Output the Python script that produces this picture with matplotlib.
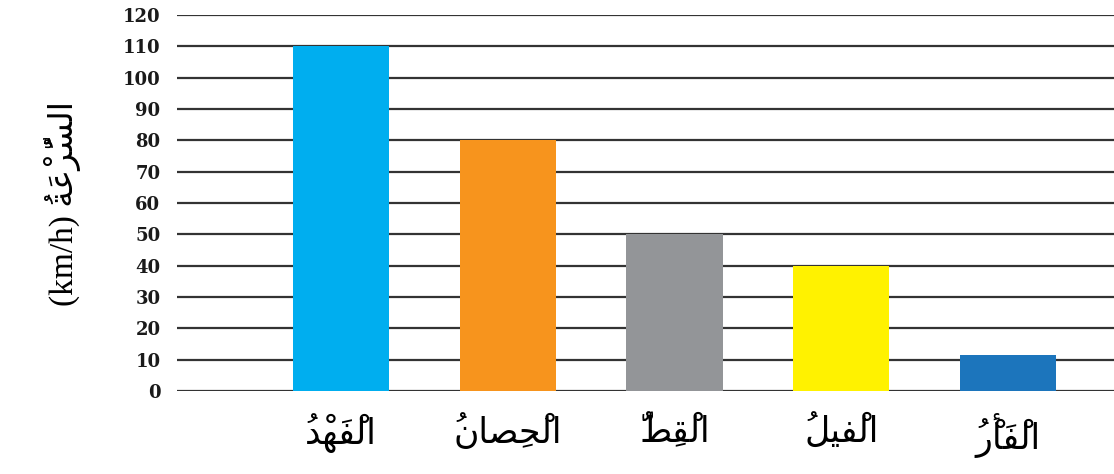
import matplotlib
matplotlib.use("Agg")
import matplotlib.pyplot as plt
import numpy as np

# Data
animals = ["الْفَهْدُ", "الْحِصانُ", "الْقِطُّ", "الْفيلُ", "الْفَأْرُ"]
speeds = [110, 80, 50, 40, 11.5]
bar_colors = ["#00AEEF", "#F7941D", "#939598", "#FFF200", "#1C75BC"]
y_ticks = list(range(0, 130, 10))
y_title = "السُّرْعَةُ"
y_unit = "(km/h)"

# Minimal Arabic shaping: presentation forms (iso, fin, ini, med)
FORMS = {
    "ا": (0xFE8D, 0xFE8E, None, None),
    "أ": (0xFE83, 0xFE84, None, None),
    "د": (0xFEA9, 0xFEAA, None, None),
    "ر": (0xFEAD, 0xFEAE, None, None),
    "ة": (0xFE93, 0xFE94, None, None),
    "ل": (0xFEDD, 0xFEDE, 0xFEDF, 0xFEE0),
    "ف": (0xFED1, 0xFED2, 0xFED3, 0xFED4),
    "ه": (0xFEE9, 0xFEEA, 0xFEEB, 0xFEEC),
    "ح": (0xFEA1, 0xFEA2, 0xFEA3, 0xFEA4),
    "ص": (0xFEB9, 0xFEBA, 0xFEBB, 0xFEBC),
    "ن": (0xFEE5, 0xFEE6, 0xFEE7, 0xFEE8),
    "ق": (0xFED5, 0xFED6, 0xFED7, 0xFED8),
    "ط": (0xFEC1, 0xFEC2, 0xFEC3, 0xFEC4),
    "ي": (0xFEF1, 0xFEF2, 0xFEF3, 0xFEF4),
    "س": (0xFEB1, 0xFEB2, 0xFEB3, 0xFEB4),
    "ع": (0xFEC9, 0xFECA, 0xFECB, 0xFECC),
}


def is_mark(ch):
    return 0x064B <= ord(ch) <= 0x0652


def shape_ar(text):
    clusters = []
    for ch in text:
        if is_mark(ch) and clusters:
            clusters[-1][1].append(ch)
        else:
            clusters.append([ch, []])
    out = []
    for i, (base, marks) in enumerate(clusters):
        if base in FORMS:
            iso, fin, ini, med = FORMS[base]
            prev = clusters[i - 1][0] if i > 0 else None
            nxt = clusters[i + 1][0] if i + 1 < len(clusters) else None
            join_prev = prev in FORMS and FORMS[prev][2] is not None
            join_next = nxt in FORMS and ini is not None
            if join_prev and join_next:
                code = med
            elif join_prev:
                code = fin
            elif join_next:
                code = ini
            else:
                code = iso
            base = chr(code)
        # marks go before the base: the glyph run is laid out left to right
        out.append("".join(marks) + base)
    return "".join(reversed(out))


plt.rcParams["font.family"] = ["Liberation Serif", "DejaVu Sans"]

fig = plt.figure(figsize=(11.14, 4.74), dpi=100)
ax = fig.add_axes([0.159, 0.175, 0.841, 0.793])

x = np.arange(len(animals))
ax.bar(x, speeds, width=0.576, color=bar_colors, zorder=3)

ax.set_ylim(0, 120)
ax.set_xlim(-0.983, 4.636)
ax.set_yticks(y_ticks)
ax.set_yticklabels([str(v) for v in y_ticks], fontsize=13, fontweight="bold",
                   family="DejaVu Serif", color="#1a1a1a")
ax.set_xticks(x)
ax.set_xticklabels([shape_ar(a) for a in animals], fontsize=25,
                   family="DejaVu Sans")
ax.tick_params(axis="y", length=0, pad=12)
ax.tick_params(axis="x", length=0, pad=16)

for v in y_ticks:
    ax.axhline(v, color="#333333", lw=1.6, zorder=1)
for s in ax.spines.values():
    s.set_visible(False)

ax.set_ylabel(y_unit + " " + shape_ar(y_title), fontsize=24, labelpad=30)

fig.savefig("out.png", dpi=100)
